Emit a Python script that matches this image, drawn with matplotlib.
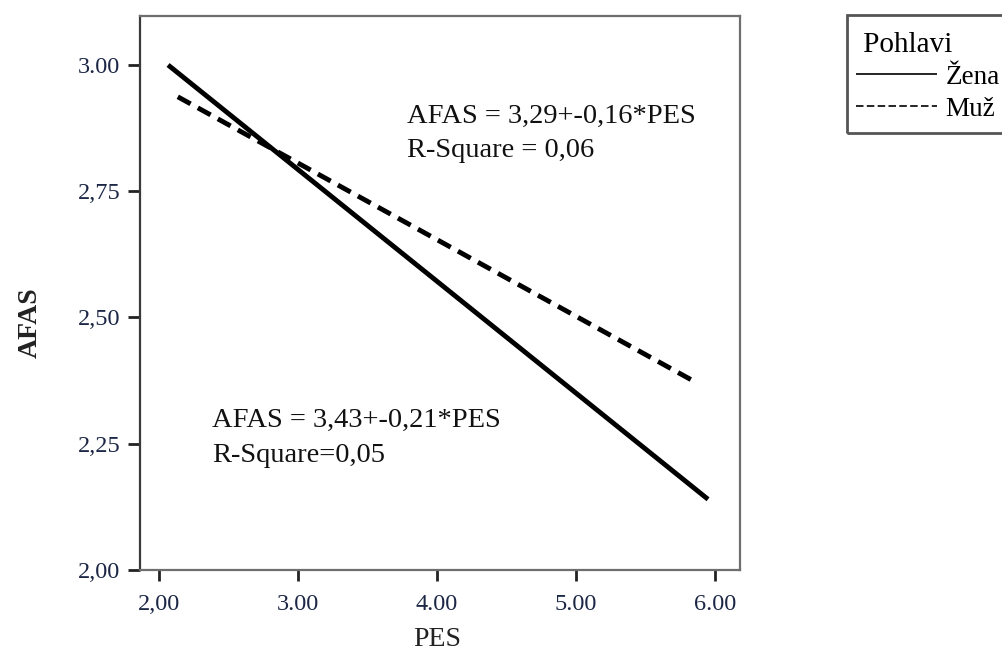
# Rectas de regresión AFAS ~ PES por pohlaví

import numpy as np
import matplotlib
matplotlib.use("Agg")
import matplotlib.pyplot as plt
from matplotlib.patches import Rectangle

# Datos
pohlavi = ["Žena", "Muž"]
zena_x = [2.065, 5.95]
zena_y = [3.00, 2.14]
muz_x = [2.135, 5.86]
muz_y = [2.937, 2.372]

xticks = [2, 3, 4, 5, 6]
xtick_labels = ["2,00", "3.00", "4.00", "5.00", "6.00"]
yticks = [2.0, 2.25, 2.5, 2.75, 3.0]
ytick_labels = ["2,00", "2,25", "2,50", "2,75", "3.00"]

rovnice_muz = ["AFAS = 3,29+-0,16*PES", "R-Square = 0,06"]
rovnice_zena = ["AFAS = 3,43+-0,21*PES", "R-Square=0,05"]

# Estilo
serif = "Liberation Serif"
tick_color = "#1c2746"
plt.rcParams["font.family"] = serif

fig = plt.figure(figsize=(10.02, 6.53), dpi=100)
ax = fig.add_axes([140 / 1002, 1 - 570 / 653, 600 / 1002, 554 / 653])

ax.plot(zena_x, zena_y, color="black", lw=3.5, solid_capstyle="butt", label=pohlavi[0])
ax.plot(muz_x, muz_y, color="black", lw=3.5, dashes=(3.0, 1.7),
        dash_capstyle="butt", label=pohlavi[1])

ax.set_xlim(1.863, 6.18)
ax.set_ylim(2.0, 3.097)
ax.set_xticks(xticks)
ax.set_xticklabels(xtick_labels)
ax.set_yticks(yticks)
ax.set_yticklabels(ytick_labels)
ax.tick_params(axis="both", labelsize=17.5, labelcolor=tick_color, color="#222222", width=2)
ax.tick_params(axis="y", length=9, pad=5)
ax.tick_params(axis="x", length=8, pad=9)

for lado in ["top", "right", "bottom", "left"]:
    ax.spines[lado].set_linewidth(1.6)
    ax.spines[lado].set_color("#6e6e6e")
ax.spines["left"].set_color("#3a3a3a")

ax.set_xlabel("PES", fontsize=20, color="#222222")
ax.set_ylabel("AFAS", fontsize=20, fontweight="bold", color="#222222")
ax.xaxis.set_label_coords((437 - 140) / 600, (570 - 640) / 554)
ax.xaxis.label.set_verticalalignment("center")
ax.yaxis.set_label_coords((30 - 140) / 600, (570 - 323) / 554)
ax.yaxis.label.set_verticalalignment("center")

# Rovnice
for i, y in enumerate([2.885, 2.818]):
    ax.text(3.784, y, rovnice_muz[i], fontsize=20.5, va="baseline", color="#111111")
for i, y in enumerate([2.283, 2.214]):
    ax.text(2.381, y, rovnice_zena[i], fontsize=20.5, va="baseline", color="#111111")

# Legenda (rámeček zvlášť, vpravo je useknutý)
fig.patches.append(Rectangle((847 / 1002, 1 - 133 / 653), 200 / 1002, 118 / 653,
                             transform=fig.transFigure, fill=False,
                             edgecolor="#555555", lw=2.0))
leg = fig.legend(loc="upper left", bbox_to_anchor=(856 / 1002, 1 - 32 / 653),
                 title=" Pohlavi", fontsize=19.5, title_fontsize=21,
                 handlelength=3.0, handletextpad=0.3, borderpad=0,
                 labelspacing=0.25, borderaxespad=0, alignment="left",
                 frameon=False)
for h in leg.get_lines():
    h.set_linewidth(1.2)
leg.get_lines()[1].set_dashes((4.5, 2.0))

fig.savefig("out.png", dpi=100)
